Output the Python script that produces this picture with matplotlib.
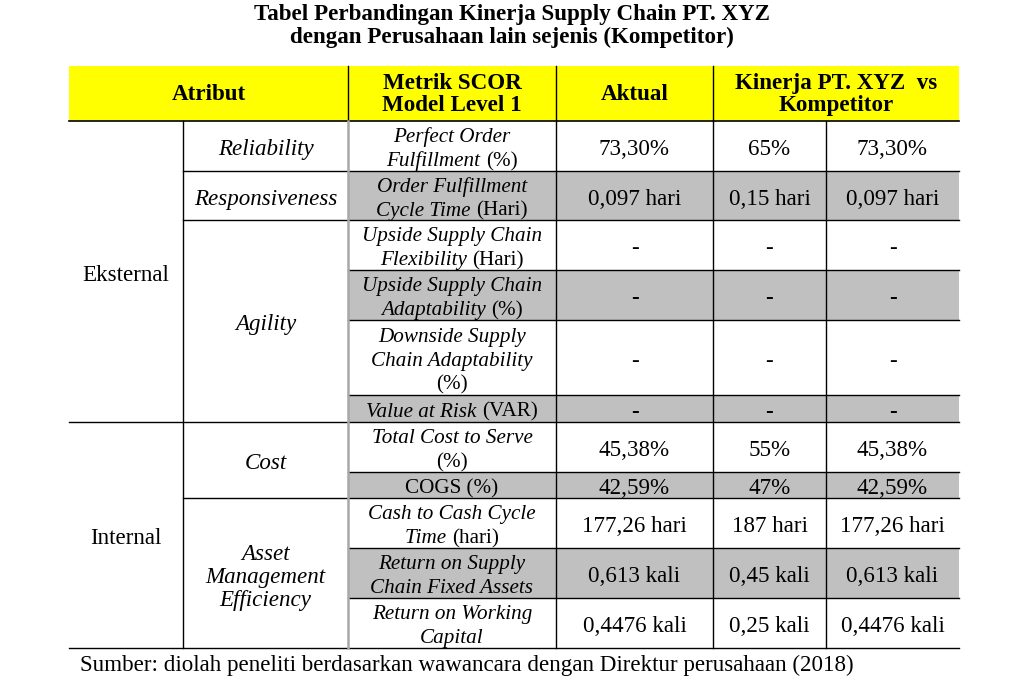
import matplotlib
matplotlib.use("Agg")
import matplotlib.pyplot as plt
from matplotlib.patches import Rectangle

plt.rcParams['font.family'] = ['Liberation Serif', 'DejaVu Serif']

title = "Tabel Perbandingan Kinerja Supply Chain PT. XYZ\ndengan Perusahaan lain sejenis (Kompetitor)"
footer = "Sumber: diolah peneliti berdasarkan wawancara dengan Direktur perusahaan (2018)"

headers = ["Atribut", "Metrik SCOR\nModel Level 1", "Aktual", "Kinerja PT. XYZ  vs\nKompetitor"]

groups = ["Eksternal", "Internal"]
attributes = ["Reliability", "Responsiveness", "Agility", "Cost", "Asset\nManagement\nEfficiency"]

# text inside {} is upright, the rest italic
metrics = [
    "Perfect Order\nFulfillment {(%)}",
    "Order Fulfillment\nCycle Time {(Hari)}",
    "Upside Supply Chain\nFlexibility {(Hari)}",
    "Upside Supply Chain\nAdaptability {(%)}",
    "Downside Supply\nChain Adaptability\n{(%)}",
    "Value at Risk {(VAR)}",
    "Total Cost to Serve\n{(%)}",
    "{COGS (%)}",
    "Cash to Cash Cycle\nTime {(hari)}",
    "Return on Supply\nChain Fixed Assets",
    "Return on Working\nCapital",
]
aktual = ["73,30%", "0,097 hari", "-", "-", "-", "-", "45,38%", "42,59%",
          "177,26 hari", "0,613 kali", "0,4476 kali"]
pt_xyz = ["65%", "0,15 hari", "-", "-", "-", "-", "55%", "47%",
          "187 hari", "0,45 kali", "0,25 kali"]
kompetitor = ["73,30%", "0,097 hari", "-", "-", "-", "-", "45,38%", "42,59%",
              "177,26 hari", "0,613 kali", "0,4476 kali"]
shaded = [False, True, False, True, False, True, False, True, False, True, False]

# which metric rows belong to each attribute / group
attr_rows = [(0, 1), (1, 2), (2, 6), (6, 8), (8, 11)]
group_rows = [(0, 6), (6, 11)]

# layout (pixels)
xs = [69, 183, 348, 556, 713, 826, 959]
head_top, head_bot = 66, 121
row_edges = [121, 171, 220, 270, 320, 395, 422, 472, 498, 548, 598, 648]

fig = plt.figure(figsize=(10.23, 6.85), dpi=100)
ax = fig.add_axes([0, 0, 1, 1])
ax.set_xlim(0, 1023)
ax.set_ylim(685, 0)
ax.axis('off')

fs = 16.6
gray = '#c0c0c0'

ax.text(512, 26, title, ha='center', va='center', fontsize=16.6, fontweight='bold', linespacing=1.1)

# header
ax.add_patch(Rectangle((xs[0], head_top), xs[6] - xs[0], head_bot - head_top, color='#ffff00', lw=0))
hcx = [(xs[0] + xs[2]) / 2, (xs[2] + xs[3]) / 2, (xs[3] + xs[4]) / 2, (xs[4] + xs[6]) / 2]
for cx, h in zip(hcx, headers):
    ax.text(cx, (head_top + head_bot) / 2 + 1, h, ha='center', va='center', fontsize=fs,
            fontweight='bold', linespacing=1.08)
for x in (xs[2], xs[3], xs[4]):
    ax.plot([x, x], [head_top, head_bot], color='black', lw=1)

# shading
for i, s in enumerate(shaded):
    if s:
        ax.add_patch(Rectangle((xs[2], row_edges[i]), xs[6] - xs[2], row_edges[i + 1] - row_edges[i],
                               color=gray, lw=0))

fig.canvas.draw()
renderer = fig.canvas.get_renderer()


def parse(line):
    segs = []
    buf, upright = "", False
    for ch in line:
        if ch == '{':
            if buf:
                segs.append((buf, upright))
            buf, upright = "", True
        elif ch == '}':
            segs.append((buf, upright))
            buf, upright = "", False
        else:
            buf += ch
    if buf:
        segs.append((buf, upright))
    return segs


def mixed_text(cx, cy, txt, size, lh=24):
    lines = txt.split('\n')
    y0 = cy - lh * (len(lines) - 1) / 2
    for k, line in enumerate(lines):
        y = y0 + k * lh
        arts = []
        for s, up in parse(line):
            t = ax.text(0, y, s, ha='left', va='center_baseline', fontsize=size,
                        fontstyle='normal' if up else 'italic')
            arts.append(t)
        widths = [a.get_window_extent(renderer).width for a in arts]
        x = cx - sum(widths) / 2
        for a, w in zip(arts, widths):
            a.set_x(x)
            x += w


# body
for i, m in enumerate(metrics):
    cy = (row_edges[i] + row_edges[i + 1]) / 2
    mixed_text((xs[2] + xs[3]) / 2, cy + 1, m, 15.2)
    for j, v in enumerate((aktual[i], pt_xyz[i], kompetitor[i])):
        ax.text((xs[3 + j] + xs[4 + j]) / 2, cy + 1, v, ha='center', va='center_baseline', fontsize=fs,
                fontweight='bold' if (v == '-' and shaded[i]) else 'normal')

for name, (a, b) in zip(attributes, attr_rows):
    cy = (row_edges[a] + row_edges[b]) / 2
    ax.text((xs[1] + xs[2]) / 2, cy + 1, name, ha='center', va='center_baseline', fontsize=fs,
            fontstyle='italic', linespacing=1.12)

for name, (a, b) in zip(groups, group_rows):
    cy = (row_edges[a] + row_edges[b]) / 2
    ax.text((xs[0] + xs[1]) / 2, cy + 1, name, ha='center', va='center_baseline', fontsize=fs)

# borders
ax.plot([xs[0], xs[6]], [head_bot, head_bot], color='black', lw=1.2)
for i in range(1, len(row_edges)):
    y = row_edges[i]
    if i in (6, len(row_edges) - 1):
        x0 = xs[0]
    elif i in (1, 2, 8):
        x0 = xs[1]
    else:
        x0 = xs[2]
    ax.plot([x0, xs[6]], [y, y], color='black', lw=1.0)

ax.plot([xs[1], xs[1]], [head_bot, row_edges[-1]], color='black', lw=1.0)
ax.plot([xs[2], xs[2]], [head_bot, row_edges[-1]], color='#a8a8a8', lw=1.8)
for x in (xs[3], xs[4], xs[5]):
    ax.plot([x, x], [head_bot, row_edges[-1]], color='black', lw=1.0)

ax.text(80, 663, footer, ha='left', va='center_baseline', fontsize=fs)

fig.savefig("out.png", dpi=100)
